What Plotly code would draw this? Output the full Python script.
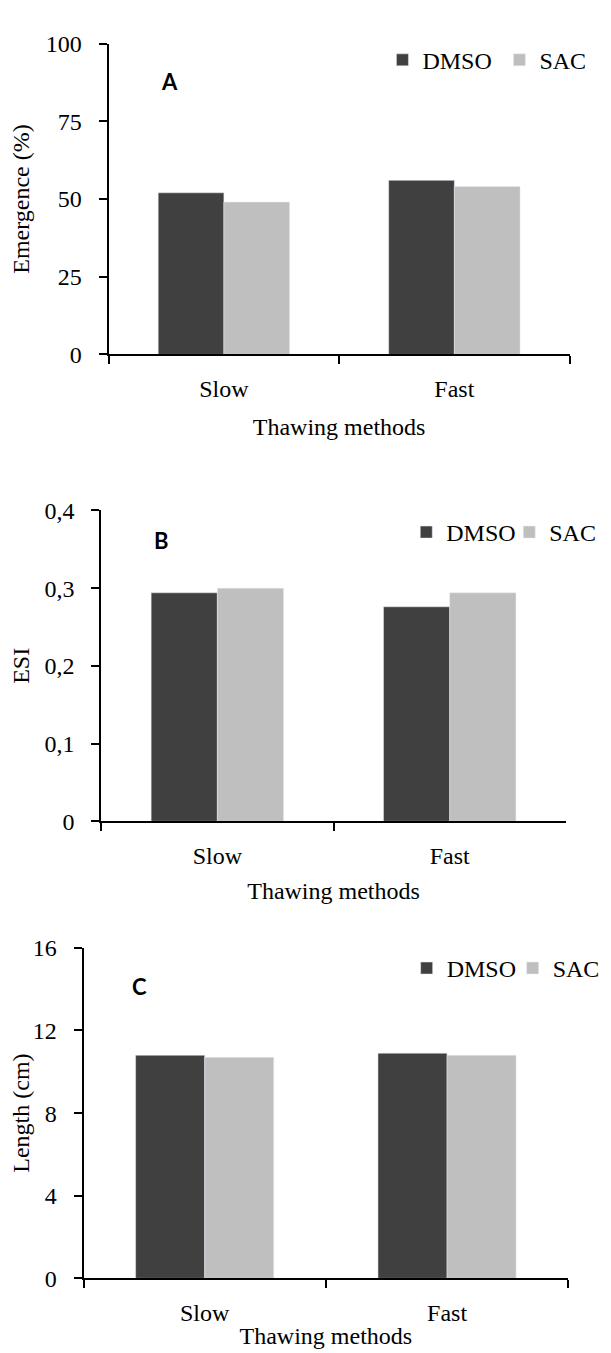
import plotly.graph_objects as go

# ---- data ----
categories = ["Slow", "Fast"]
series_names = ["DMSO", "SAC"]

emergence_dmso = [52, 56]
emergence_sac = [49, 54]

esi_dmso = [0.294, 0.276]
esi_sac = [0.300, 0.294]

length_dmso = [10.8, 10.9]
length_sac = [10.7, 10.8]

panel_letters = ["A", "B", "C"]
y_titles = ["Emergence (%)", "ESI", "Length (cm)"]
x_title = "Thawing methods"

DARK = "#404040"
LIGHT = "#bfbfbf"
FONT = "Liberation Serif"
W, H = 611, 1353


def px_x(v):
    return v / W


def px_y(v):
    return 1 - v / H


fig = go.Figure()

panels = [
    (emergence_dmso, emergence_sac, "legend"),
    (esi_dmso, esi_sac, "legend2"),
    (length_dmso, length_sac, "legend3"),
]
for i, (d, s, lg) in enumerate(panels, start=1):
    xa = "x" if i == 1 else f"x{i}"
    ya = "y" if i == 1 else f"y{i}"
    fig.add_trace(go.Bar(x=categories, y=d, name=series_names[0], marker_color=DARK,
                         xaxis=xa, yaxis=ya, legend=lg))
    fig.add_trace(go.Bar(x=categories, y=s, name=series_names[1], marker_color=LIGHT,
                         xaxis=xa, yaxis=ya, legend=lg))

# plot-area geometry (pixels): left, right, top, bottom
geo = [
    (107, 602, 23, 340),
    (99, 598, 499, 816),
    (80, 600.5, 945, 1282),
]
yranges = [[0, 100], [0, 0.4], [0, 16]]
ydticks = [25, 0.1, 4]
xstandoffs = [17, 14, 2]
ystandoffs = [10, 12, 8]

axis_common = dict(showline=True, linecolor="black", linewidth=2, ticks="outside",
                   ticklen=8, tickwidth=2, tickcolor="black", showgrid=False,
                   zeroline=False, tickfont=dict(family=FONT, size=24, color="black"))

layout = dict(
    width=W, height=H, margin=dict(l=0, r=0, t=0, b=0),
    paper_bgcolor="white", plot_bgcolor="white",
    barmode="group", bargap=0.43, bargroupgap=0,
    separators=",.",
    font=dict(family=FONT, size=24, color="black"),
)

for i, ((l, r, t, b), yr, dt) in enumerate(zip(geo, yranges, ydticks), start=1):
    xk = "xaxis" if i == 1 else f"xaxis{i}"
    yk = "yaxis" if i == 1 else f"yaxis{i}"
    ya_ref = "y" if i == 1 else f"y{i}"
    xa_ref = "x" if i == 1 else f"x{i}"
    layout[xk] = dict(axis_common, domain=[px_x(l), px_x(r)], anchor=ya_ref,
                      type="category", range=[-0.5, 1.5], tickson="boundaries",
                      ticklabelstandoff=12,
                      title=dict(text=x_title, standoff=xstandoffs[i - 1],
                                 font=dict(family=FONT, size=24, color="black")))
    layout[yk] = dict(axis_common, domain=[px_y(b), px_y(t)], anchor=xa_ref,
                      range=yr, dtick=dt, tick0=0, ticklabelstandoff=12,
                      title=dict(text=y_titles[i - 1], standoff=ystandoffs[i - 1],
                                 font=dict(family=FONT, size=24, color="black")))

legend_pos = [(401, 40, 72), (426.6, 521.5, 58), (427, 966, 61)]
for i, (lx, ly, ew) in enumerate(legend_pos, start=1):
    key = "legend" if i == 1 else f"legend{i}"
    layout[key] = dict(orientation="h", x=px_x(lx), y=px_y(ly), xanchor="left",
                       yanchor="middle", bgcolor="rgba(0,0,0,0)",
                       font=dict(family=FONT, size=24, color="black"),
                       entrywidth=ew, entrywidthmode="pixels", traceorder="normal")

fig.update_layout(**layout)

letter_pos = [(172, 62), (164, 530), (140.5, 984.5)]
for letter, (lx, ly) in zip(panel_letters, letter_pos):
    fig.add_annotation(text=f"<b>{letter}</b>", x=px_x(lx), y=px_y(ly), xref="paper", yref="paper",
                       xanchor="center", yanchor="middle", showarrow=False,
                       font=dict(family="Lato", size=22, color="black"))

fig.write_html("out.html")
